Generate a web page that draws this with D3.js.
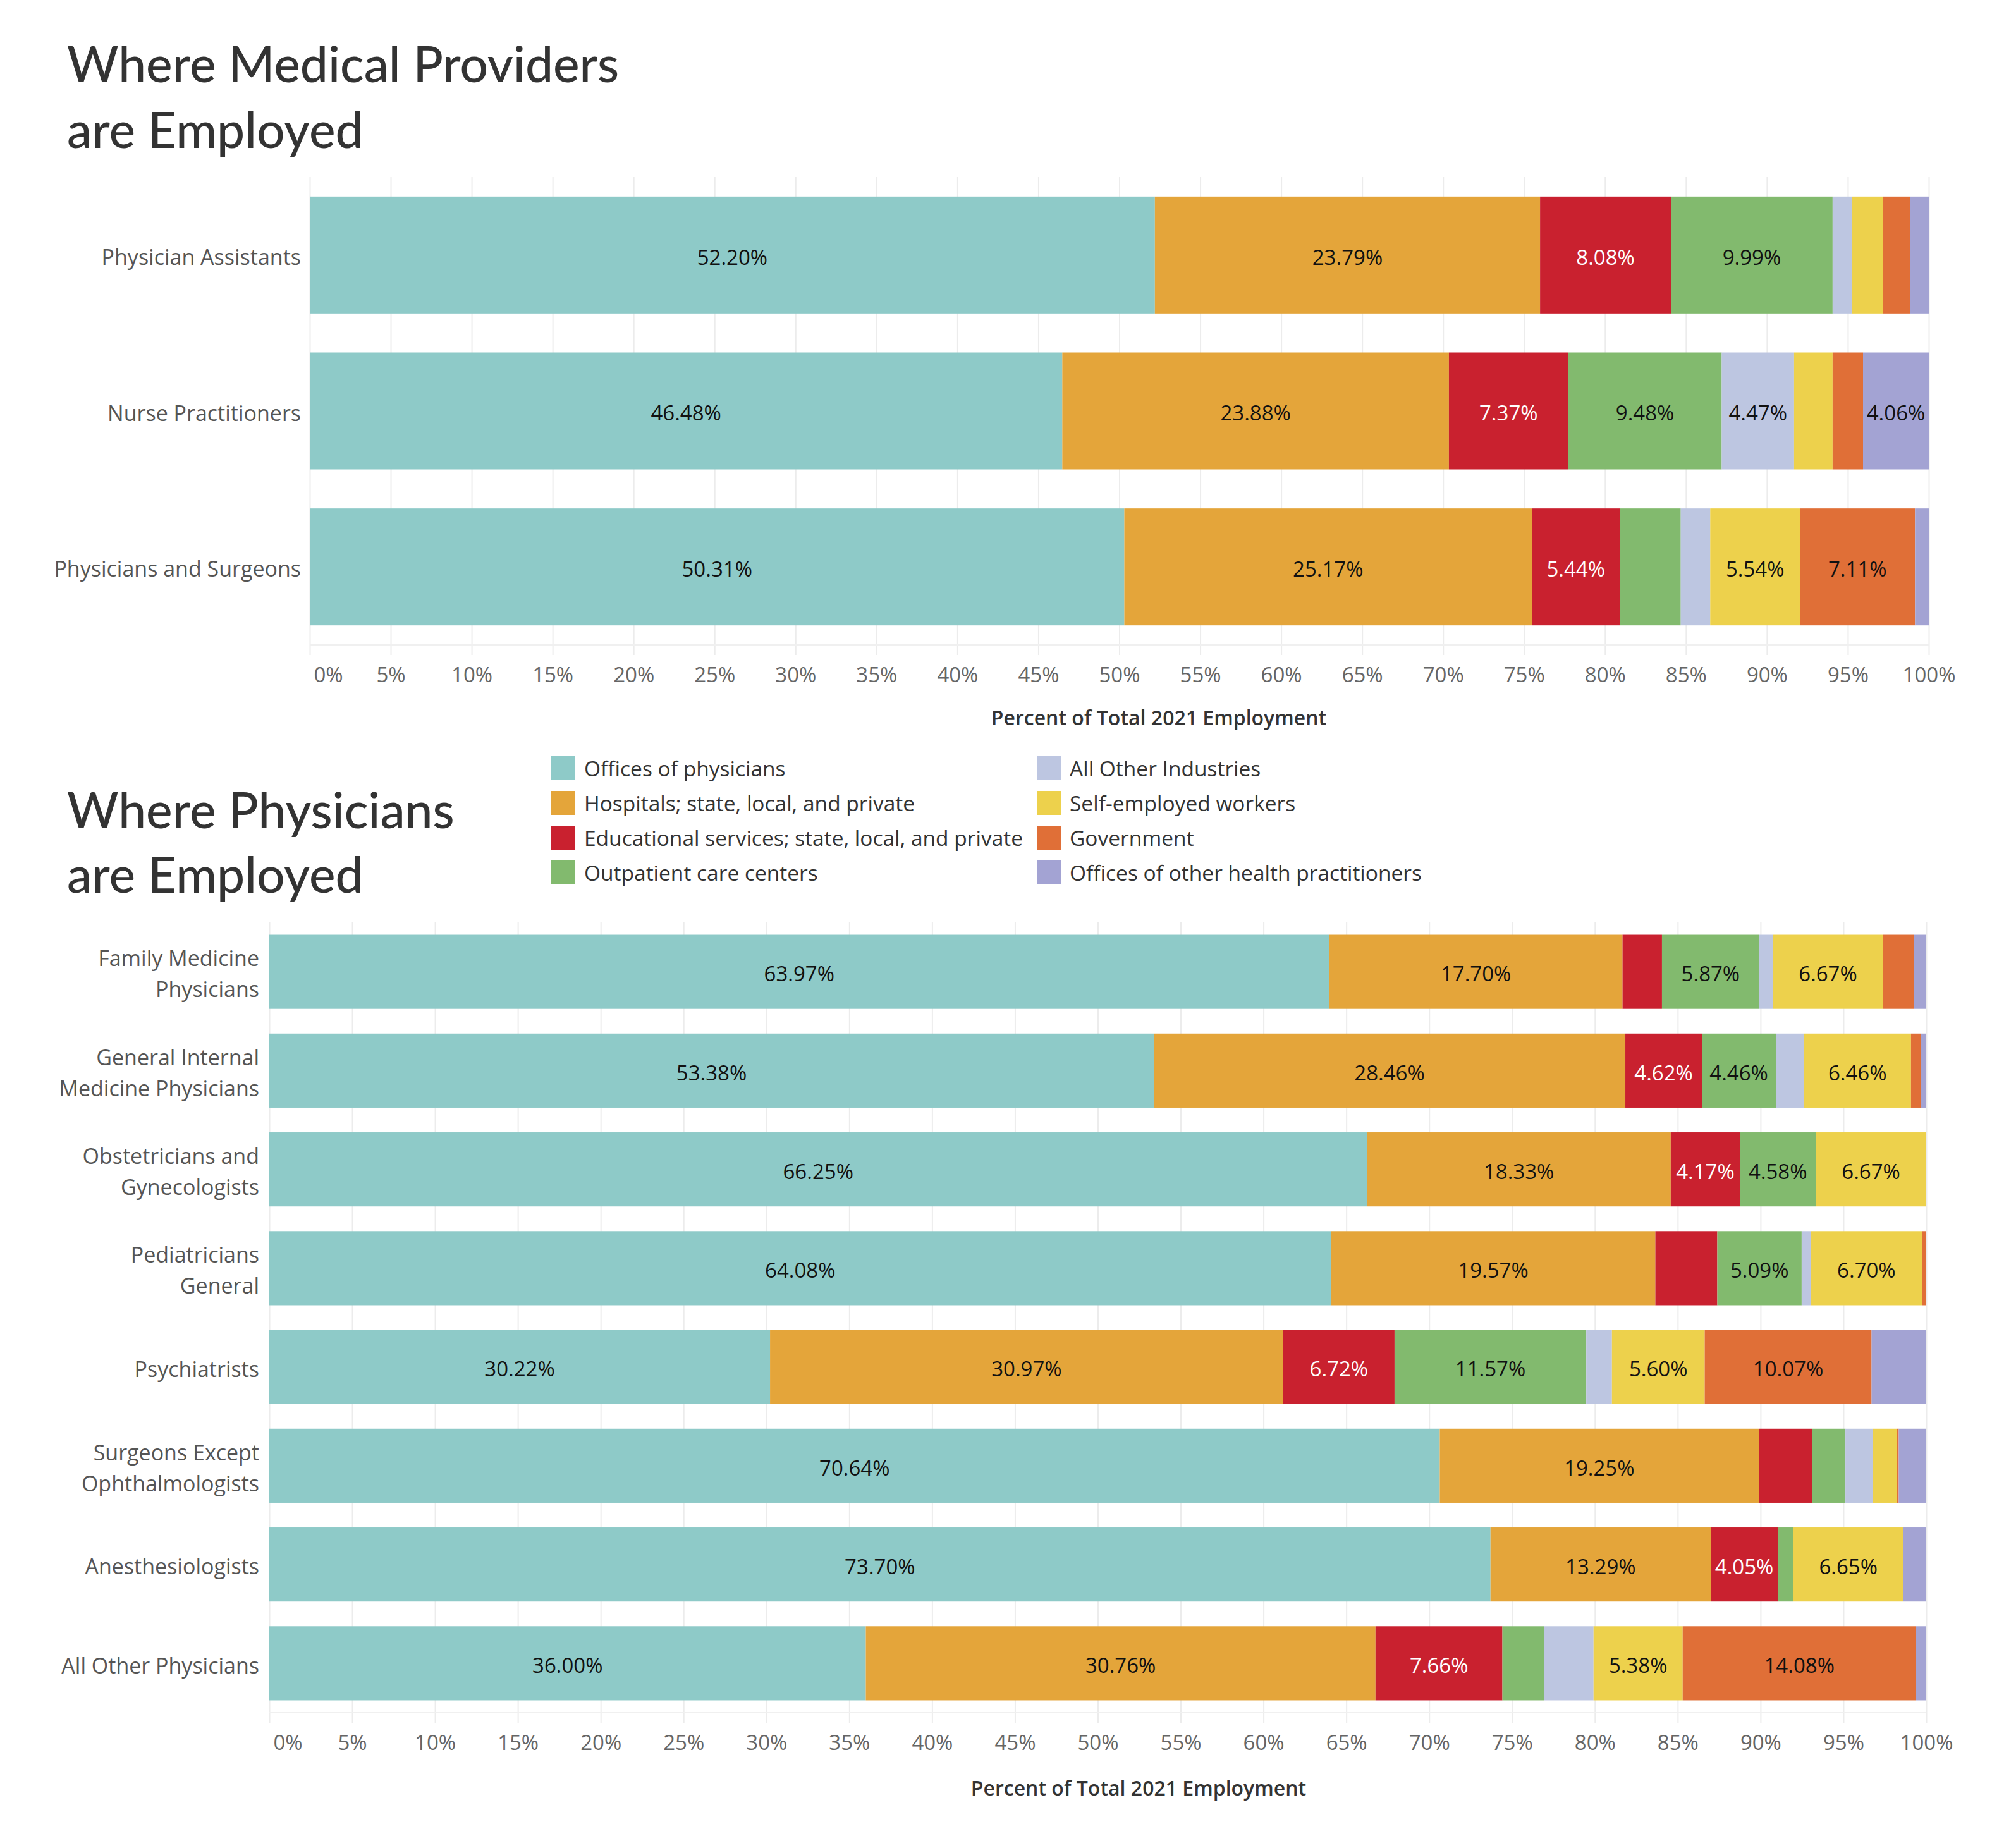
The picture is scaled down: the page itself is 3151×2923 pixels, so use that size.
<!DOCTYPE html>
<html>
<head>
<meta charset="utf-8">
<script src="https://cdn.jsdelivr.net/npm/d3@7"></script>
<style>
body { margin: 0; background: #fff; }
text { font-family: "Open Sans", "Noto Sans", sans-serif; }
text.title { font-family: Lato, "Noto Sans", sans-serif; }
</style>
</head>
<body>
<div id="viz"></div>
<script>
// industries (stack order) and their colours
let industries = [
  "Offices of physicians",
  "Hospitals; state, local, and private",
  "Educational services; state, local, and private",
  "Outpatient care centers",
  "All Other Industries",
  "Self-employed workers",
  "Government",
  "Offices of other health practitioners"
];
let industryColors = ["#8ecac8", "#e4a53a", "#c9212f", "#82ba6e", "#bdc6e1", "#edd14c", "#e06f37", "#a3a3d3"];

// top chart
let providers = ["Physician Assistants", "Nurse Practitioners", "Physicians and Surgeons"];
let providerShares = [
  [52.20, 23.79, 8.08, 9.99, 1.19, 1.90, 1.68, 1.17],
  [46.48, 23.88, 7.37, 9.48, 4.47, 2.38, 1.88, 4.06],
  [50.31, 25.17, 5.44, 3.76, 1.82, 5.54, 7.11, 0.85]
];

// bottom chart
let physicians = [
  "Family Medicine Physicians",
  "General Internal Medicine Physicians",
  "Obstetricians and Gynecologists",
  "Pediatricians General",
  "Psychiatrists",
  "Surgeons Except Ophthalmologists",
  "Anesthesiologists",
  "All Other Physicians"
];
let physicianLabelLines = [
  ["Family Medicine", "Physicians"],
  ["General Internal", "Medicine Physicians"],
  ["Obstetricians and", "Gynecologists"],
  ["Pediatricians", "General"],
  ["Psychiatrists"],
  ["Surgeons Except", "Ophthalmologists"],
  ["Anesthesiologists"],
  ["All Other Physicians"]
];
let physicianShares = [
  [63.97, 17.70, 2.38, 5.87, 0.81, 6.67, 1.87, 0.73],
  [53.38, 28.46, 4.62, 4.46, 1.70, 6.46, 0.61, 0.31],
  [66.25, 18.33, 4.17, 4.58, 0.00, 6.67, 0.00, 0.00],
  [64.08, 19.57, 3.74, 5.09, 0.56, 6.70, 0.26, 0.00],
  [30.22, 30.97, 6.72, 11.57, 1.55, 5.60, 10.07, 3.30],
  [70.64, 19.25, 3.24, 1.99, 1.64, 1.47, 0.11, 1.66],
  [73.70, 13.29, 4.05, 0.93, 0.00, 6.65, 0.00, 1.38],
  [36.00, 30.76, 7.66, 2.50, 3.00, 5.38, 14.08, 0.62]
];

let tickValues = [0, 5, 10, 15, 20, 25, 30, 35, 40, 45, 50, 55, 60, 65, 70, 75, 80, 85, 90, 95, 100];
let axisTitle = "Percent of Total 2021 Employment";

let W = 3151, H = 2923;
let svg = d3.select("#viz").append("svg")
  .attr("width", W).attr("height", H)
  .style("background", "#fff");

let color = d3.scaleOrdinal().domain(industries).range(industryColors);

function title(lines, x, y0, gap) {
  svg.append("g").selectAll("text").data(lines).enter()
    .append("text")
    .attr("class", "title")
    .attr("x", x)
    .attr("y", (d, i) => y0 + i * gap)
    .attr("fill", "#333")
    .attr("font-size", 78.5)
    .attr("font-weight", 500)
    .text(d => d);
}

function panel(o) {
  let table = o.rows.map((r, i) => {
    let t = { row: r };
    industries.forEach((k, j) => t[k] = o.shares[i][j]);
    return t;
  });
  let series = d3.stack().keys(industries)(table);

  let x = d3.scaleLinear().domain([0, 100]).range([o.x0, o.x1]);
  let y = d3.scaleBand().domain(o.rows).range([o.top, o.bottom])
    .paddingInner(0.25).paddingOuter(0.125);

  let g = svg.append("g");

  // gridlines
  let grid = g.append("g")
    .attr("transform", "translate(0," + (o.bottom + 16) + ")")
    .call(d3.axisBottom(x).tickValues(tickValues).tickSize(0).tickFormat(""));
  grid.select(".domain").remove();
  grid.selectAll(".tick line")
    .attr("y2", -(o.bottom + 16 - o.top))
    .attr("stroke", "#ececec").attr("stroke-width", 2);
  g.append("line")
    .attr("x1", o.x0).attr("x2", o.x1)
    .attr("y1", o.bottom).attr("y2", o.bottom)
    .attr("stroke", "#f0f0f0").attr("stroke-width", 2);

  // bars
  let layer = g.selectAll(".layer").data(series).enter()
    .append("g").attr("class", "layer")
    .attr("fill", d => color(d.key));
  layer.selectAll("rect").data(d => d).enter()
    .append("rect")
    .attr("x", d => x(d[0]))
    .attr("y", d => y(d.data.row))
    .attr("width", d => x(d[1]) - x(d[0]))
    .attr("height", y.bandwidth());

  // value labels (only segments of 4% or more)
  layer.selectAll("text").data(d => d.map(p => ({ p: p, key: d.key }))).enter()
    .filter(d => d.p[1] - d.p[0] >= 4)
    .append("text")
    .attr("x", d => (x(d.p[0]) + x(d.p[1])) / 2)
    .attr("y", d => y(d.p.data.row) + y.bandwidth() / 2)
    .attr("dy", "0.46em")
    .attr("text-anchor", "middle")
    .attr("font-size", 33)
    .attr("fill", d => d.key === industries[2] ? "#fff" : "#111")
    .text(d => (d.p[1] - d.p[0]).toFixed(2) + "%");

  // row labels
  let rl = g.selectAll(".rowlabel").data(o.rows).enter()
    .append("text").attr("class", "rowlabel")
    .attr("text-anchor", "end")
    .attr("font-size", 34)
    .attr("fill", "#555")
    .attr("transform", d => "translate(" + o.labelX + "," + (y(d) + y.bandwidth() / 2) + ")");
  rl.selectAll("tspan").data((d, i) => o.lines[i]).enter()
    .append("tspan")
    .attr("x", 0)
    .attr("y", (d, i, n) => (i - (n.length - 1) / 2) * 49)
    .attr("dy", "0.46em")
    .text(d => d);

  // x axis
  let ax = g.append("g")
    .attr("transform", "translate(0," + o.bottom + ")")
    .call(d3.axisBottom(x).tickValues(tickValues).tickSize(0).tickPadding(36).tickFormat(d => d + "%"));
  ax.select(".domain").remove();
  ax.selectAll("text")
    .attr("font-family", "'Open Sans', 'Noto Sans', sans-serif")
    .attr("font-size", 33)
    .attr("fill", "#666");
  ax.selectAll(".tick").filter(d => d === 0).select("text")
    .attr("text-anchor", "start").attr("x", 6);

  g.append("text")
    .attr("x", o.axisTitleX).attr("y", o.axisTitleY)
    .attr("text-anchor", "middle")
    .attr("font-size", 32)
    .attr("font-weight", 600)
    .attr("fill", "#333")
    .text(axisTitle);
}

title(["Where Medical Providers", "are Employed"], 106, 130, 104);
panel({
  rows: providers,
  lines: providers.map(d => [d]),
  shares: providerShares,
  x0: 490, x1: 3051, top: 280, bottom: 1020,
  labelX: 476,
  axisTitleX: 1833, axisTitleY: 1147
});

title(["Where Physicians", "are Employed"], 106, 1310, 102);

// legend
let legend = svg.append("g").selectAll("g").data(industries).enter()
  .append("g")
  .attr("transform", (d, i) => "translate(" + (i < 4 ? 872 : 1640) + "," + (1196 + (i % 4) * 55) + ")");
legend.append("rect")
  .attr("width", 38).attr("height", 38)
  .attr("fill", d => color(d));
legend.append("text")
  .attr("x", 52).attr("y", 19).attr("dy", "0.4em")
  .attr("font-size", 33.5).attr("fill", "#333")
  .text(d => d);

panel({
  rows: physicians,
  lines: physicianLabelLines,
  shares: physicianShares,
  x0: 426, x1: 3047, top: 1459, bottom: 2709,
  labelX: 410,
  axisTitleX: 1801, axisTitleY: 2840
});
</script>
</body>
</html>
